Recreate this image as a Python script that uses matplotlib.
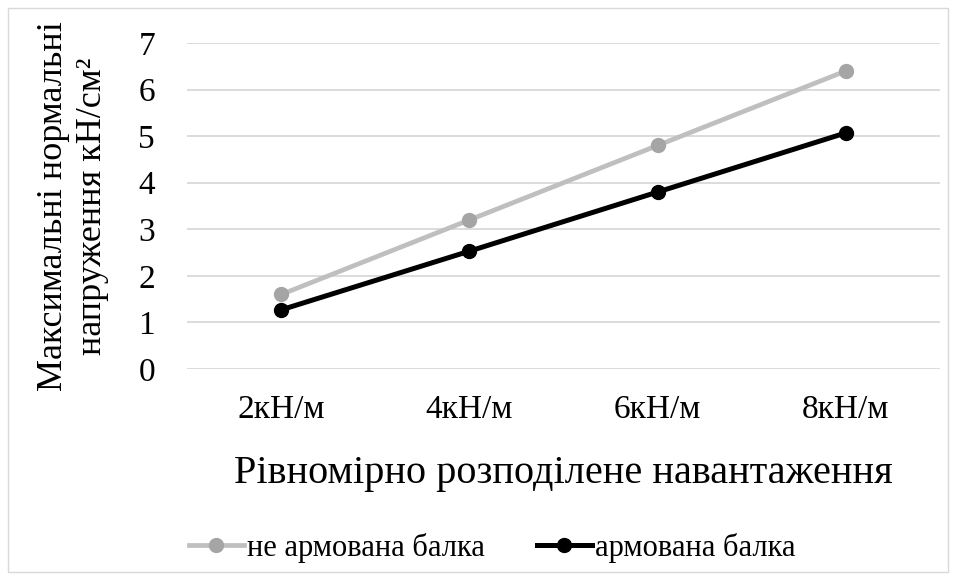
import matplotlib.pyplot as plt
from matplotlib.patches import Rectangle

plt.rcParams['font.family'] = ['Liberation Serif', 'DejaVu Serif']

# --- data ---
categories = ['2кН/м', '4кН/м', '6кН/м', '8кН/м']
ne_armovana = [1.6, 3.2, 4.8, 6.4]
armovana = [1.27, 2.53, 3.8, 5.07]
series_names = ['не армована балка', 'армована балка']

fig = plt.figure(figsize=(9.56, 5.8), dpi=100)
ax = fig.add_axes([187/956, 1 - 369/580, (940-187)/956, (369-43)/580])

x = range(len(categories))
ax.plot(x, ne_armovana, color='#BFBFBF', lw=3.4, marker='o', ms=10,
        mfc='#A5A5A5', mec='#A5A5A5', label=series_names[0], zorder=3)
ax.plot(x, armovana, color='black', lw=3.6, marker='o', ms=10,
        mfc='black', mec='black', label=series_names[1], zorder=3)

ax.set_xlim(-0.5, len(categories) - 0.5)
ax.set_ylim(0, 7)
ax.set_yticks(range(8))
ax.set_xticks(list(x))
ax.set_xticklabels(categories)
ax.yaxis.grid(True, color='#D9D9D9', lw=1.3)
ax.set_axisbelow(True)
for s in ax.spines.values():
    s.set_visible(False)
ax.tick_params(length=0, labelsize=24)
ax.tick_params(axis='y', pad=23)
ax.tick_params(axis='x', pad=18)

ax.set_xlabel('Рівномірно розподілене навантаження', fontsize=29, labelpad=22)
ax.set_ylabel('Максимальні нормальні\nнапруження кН/см²', fontsize=26, labelpad=21,
              linespacing=1.25)

fig.legend(loc='center', bbox_to_anchor=(492/956, 1 - 548/580), ncol=2,
           frameon=False, fontsize=22, handlelength=1.8, handletextpad=0.1,
           columnspacing=1.7)

# outer chart border
fig.patches.append(Rectangle((8/956, 8/580), 940/956, 564/580, transform=fig.transFigure,
                             fill=False, edgecolor='#D9D9D9', lw=1))

fig.savefig('out.png', dpi=100)
